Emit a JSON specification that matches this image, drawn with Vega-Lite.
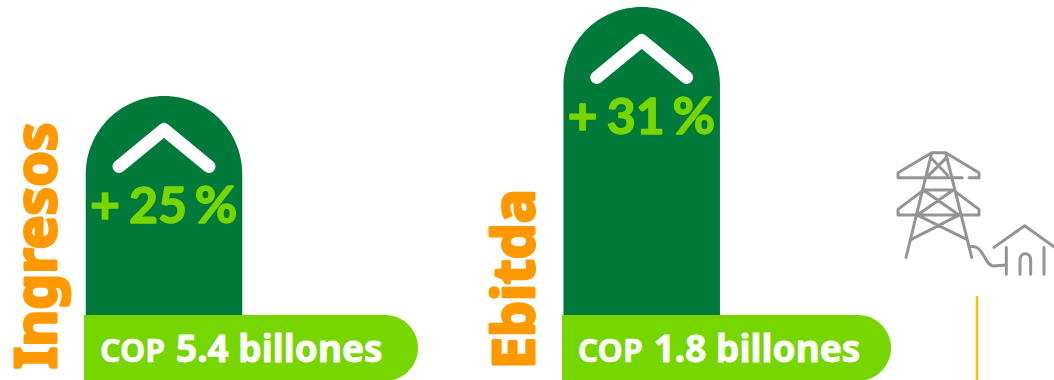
{
  "$schema": "https://vega.github.io/schema/vega-lite/v6.json",
  "width": 1054,
  "height": 380,
  "padding": 0,
  "autosize": {"type": "none"},
  "background": "#ffffff",
  "view": {"stroke": null},
  "datasets": {
    "indicadores": [
      {"concepto": "Ingresos", "crecimiento": 25, "signo": "+", "cifra": "25", "unidad": "%", "moneda": "COP", "monto": "5.4 billones"},
      {"concepto": "Ebitda", "crecimiento": 31, "signo": "+", "cifra": "31", "unidad": "%", "moneda": "COP", "monto": "1.8 billones"}
    ]
  },
  "encoding": {
    "x": {
      "field": "concepto",
      "type": "nominal",
      "axis": null,
      "scale": {"type": "point", "domain": ["Ingresos", "Ebitda"], "range": [164, 641.7], "padding": 0}
    },
    "y": {
      "field": "crecimiento",
      "type": "quantitative",
      "axis": null,
      "stack": null,
      "scale": {"domain": [5.85, 31.47], "zero": false, "nice": false}
    }
  },
  "layer": [
    {
      "data": {"name": "indicadores"},
      "mark": {"type": "bar", "width": 156.5, "color": "#007A3A", "cornerRadiusTopLeft": 78, "cornerRadiusTopRight": 78},
      "encoding": {"y2": {"datum": 10.23}}
    },
    {
      "data": {"name": "indicadores"},
      "transform": [{"filter": "datum.concepto === 'Ingresos'"}],
      "mark": {"type": "bar", "width": 334, "xOffset": 87, "color": "#78D600", "cornerRadiusTopRight": 33, "cornerRadiusBottomRight": 33},
      "encoding": {"y": {"datum": 10.23}, "y2": {"datum": 5.8}}
    },
    {
      "data": {"name": "indicadores"},
      "transform": [{"filter": "datum.concepto === 'Ebitda'"}],
      "mark": {"type": "bar", "width": 329, "xOffset": 84.8, "color": "#78D600", "cornerRadiusTopRight": 33, "cornerRadiusBottomRight": 33},
      "encoding": {"y": {"datum": 10.23}, "y2": {"datum": 5.8}}
    },
    {
      "data": {"name": "indicadores"},
      "mark": {
        "type": "point",
        "shape": "M-0.45,0.185 L0,-0.185 L0.45,0.185",
        "size": 40000,
        "filled": false,
        "stroke": "#ffffff",
        "strokeWidth": 13,
        "strokeCap": "round",
        "strokeJoin": "round",
        "opacity": 1,
        "yOffset": 52
      }
    },
    {
      "data": {"name": "indicadores"},
      "mark": {"type": "text", "font": "Lato", "fontWeight": "bold", "fontSize": 52, "color": "#78D600", "stroke": "#78D600", "strokeWidth": 1.5, "strokeJoin": "round", "align": "center", "baseline": "alphabetic", "xOffset": -59, "yOffset": 127},
      "encoding": {"text": {"field": "signo"}}
    },
    {
      "data": {"name": "indicadores"},
      "mark": {"type": "text", "font": "Lato", "fontWeight": "bold", "fontSize": 50, "color": "#78D600", "stroke": "#78D600", "strokeWidth": 1.5, "strokeJoin": "round", "align": "center", "baseline": "alphabetic", "xOffset": -6, "yOffset": 127},
      "encoding": {"text": {"field": "cifra"}}
    },
    {
      "data": {"name": "indicadores"},
      "mark": {"type": "text", "font": "Lato", "fontWeight": "bold", "fontSize": 52, "color": "#78D600", "stroke": "#78D600", "strokeWidth": 1.5, "strokeJoin": "round", "align": "center", "baseline": "alphabetic", "xOffset": 52, "yOffset": 127},
      "encoding": {"text": {"field": "unidad"}}
    },
    {
      "data": {"name": "indicadores"},
      "mark": {
        "type": "text",
        "font": "Noto Sans",
        "fontWeight": "bold",
        "fontSize": 57,
        "angle": 270,
        "color": "#FF9900",
        "stroke": "#FF9900",
        "strokeWidth": 3,
        "strokeJoin": "round",
        "align": "left",
        "baseline": "alphabetic",
        "xOffset": -108,
        "yOffset": 54
      },
      "encoding": {"y": {"datum": 10.23}, "text": {"field": "concepto"}}
    },
    {
      "data": {"name": "indicadores"},
      "mark": {"type": "text", "font": "Noto Sans", "fontWeight": "bold", "fontSize": 32, "color": "#ffffff", "stroke": "#ffffff", "strokeWidth": 0.5, "align": "left", "baseline": "alphabetic", "xOffset": -64, "yOffset": 47},
      "encoding": {"y": {"datum": 10.23}, "text": {"field": "moneda"}}
    },
    {
      "data": {"name": "indicadores"},
      "mark": {"type": "text", "font": "Noto Sans", "fontWeight": "bold", "fontSize": 37, "color": "#ffffff", "stroke": "#ffffff", "strokeWidth": 0.8, "align": "left", "baseline": "alphabetic", "xOffset": 12, "yOffset": 47},
      "encoding": {"y": {"datum": 10.23}, "text": {"field": "monto"}}
    },
    {
      "data": {"name": "indicadores"},
      "transform": [{"filter": "datum.concepto === 'Ebitda'"}],
      "mark": {"type": "rule", "color": "#FFC000", "strokeWidth": 2.5, "xOffset": 335.3},
      "encoding": {"y": {"datum": 11.51}, "y2": {"datum": 5.85}}
    },
    {
      "data": {"name": "indicadores"},
      "transform": [{"filter": "datum.concepto === 'Ebitda'"}],
      "mark": {
        "type": "point",
        "shape": "M-136,-292 L-94,-292 M-136,-292 L-237,-232 L-237,-217 L-44,-217 M-24,-217 L6,-217 L6,-232 L-94,-292 M-161,-180 L-237,-122 L-237,-105 L6,-105 L6,-122 L-71,-180 L-161,-180 M-136,-292 L-213,22 M-94,-292 L-16,22 M-136,-275 L-89,-225 M-94,-275 L-144,-225 M-161,-180 L-54,-105 M-71,-180 L-179,-105 M-179,-105 L-31,-32 M-54,-105 L-197,-32 M-21,-10 C21,-20 21,50 51,48 L86,45 M51,-8 L143,-73 L231,-10 M88,-8 L88,73 M201,-8 L201,73 M129,73 L129,30 C129,5 161,5 161,30 L161,73",
        "size": 0.444,
        "filled": false,
        "stroke": "#949494",
        "strokeWidth": 3,
        "strokeCap": "round",
        "strokeJoin": "round",
        "opacity": 1,
        "xOffset": 335.3,
        "yOffset": -46
      },
      "encoding": {"y": {"datum": 11.51}}
    }
  ]
}
